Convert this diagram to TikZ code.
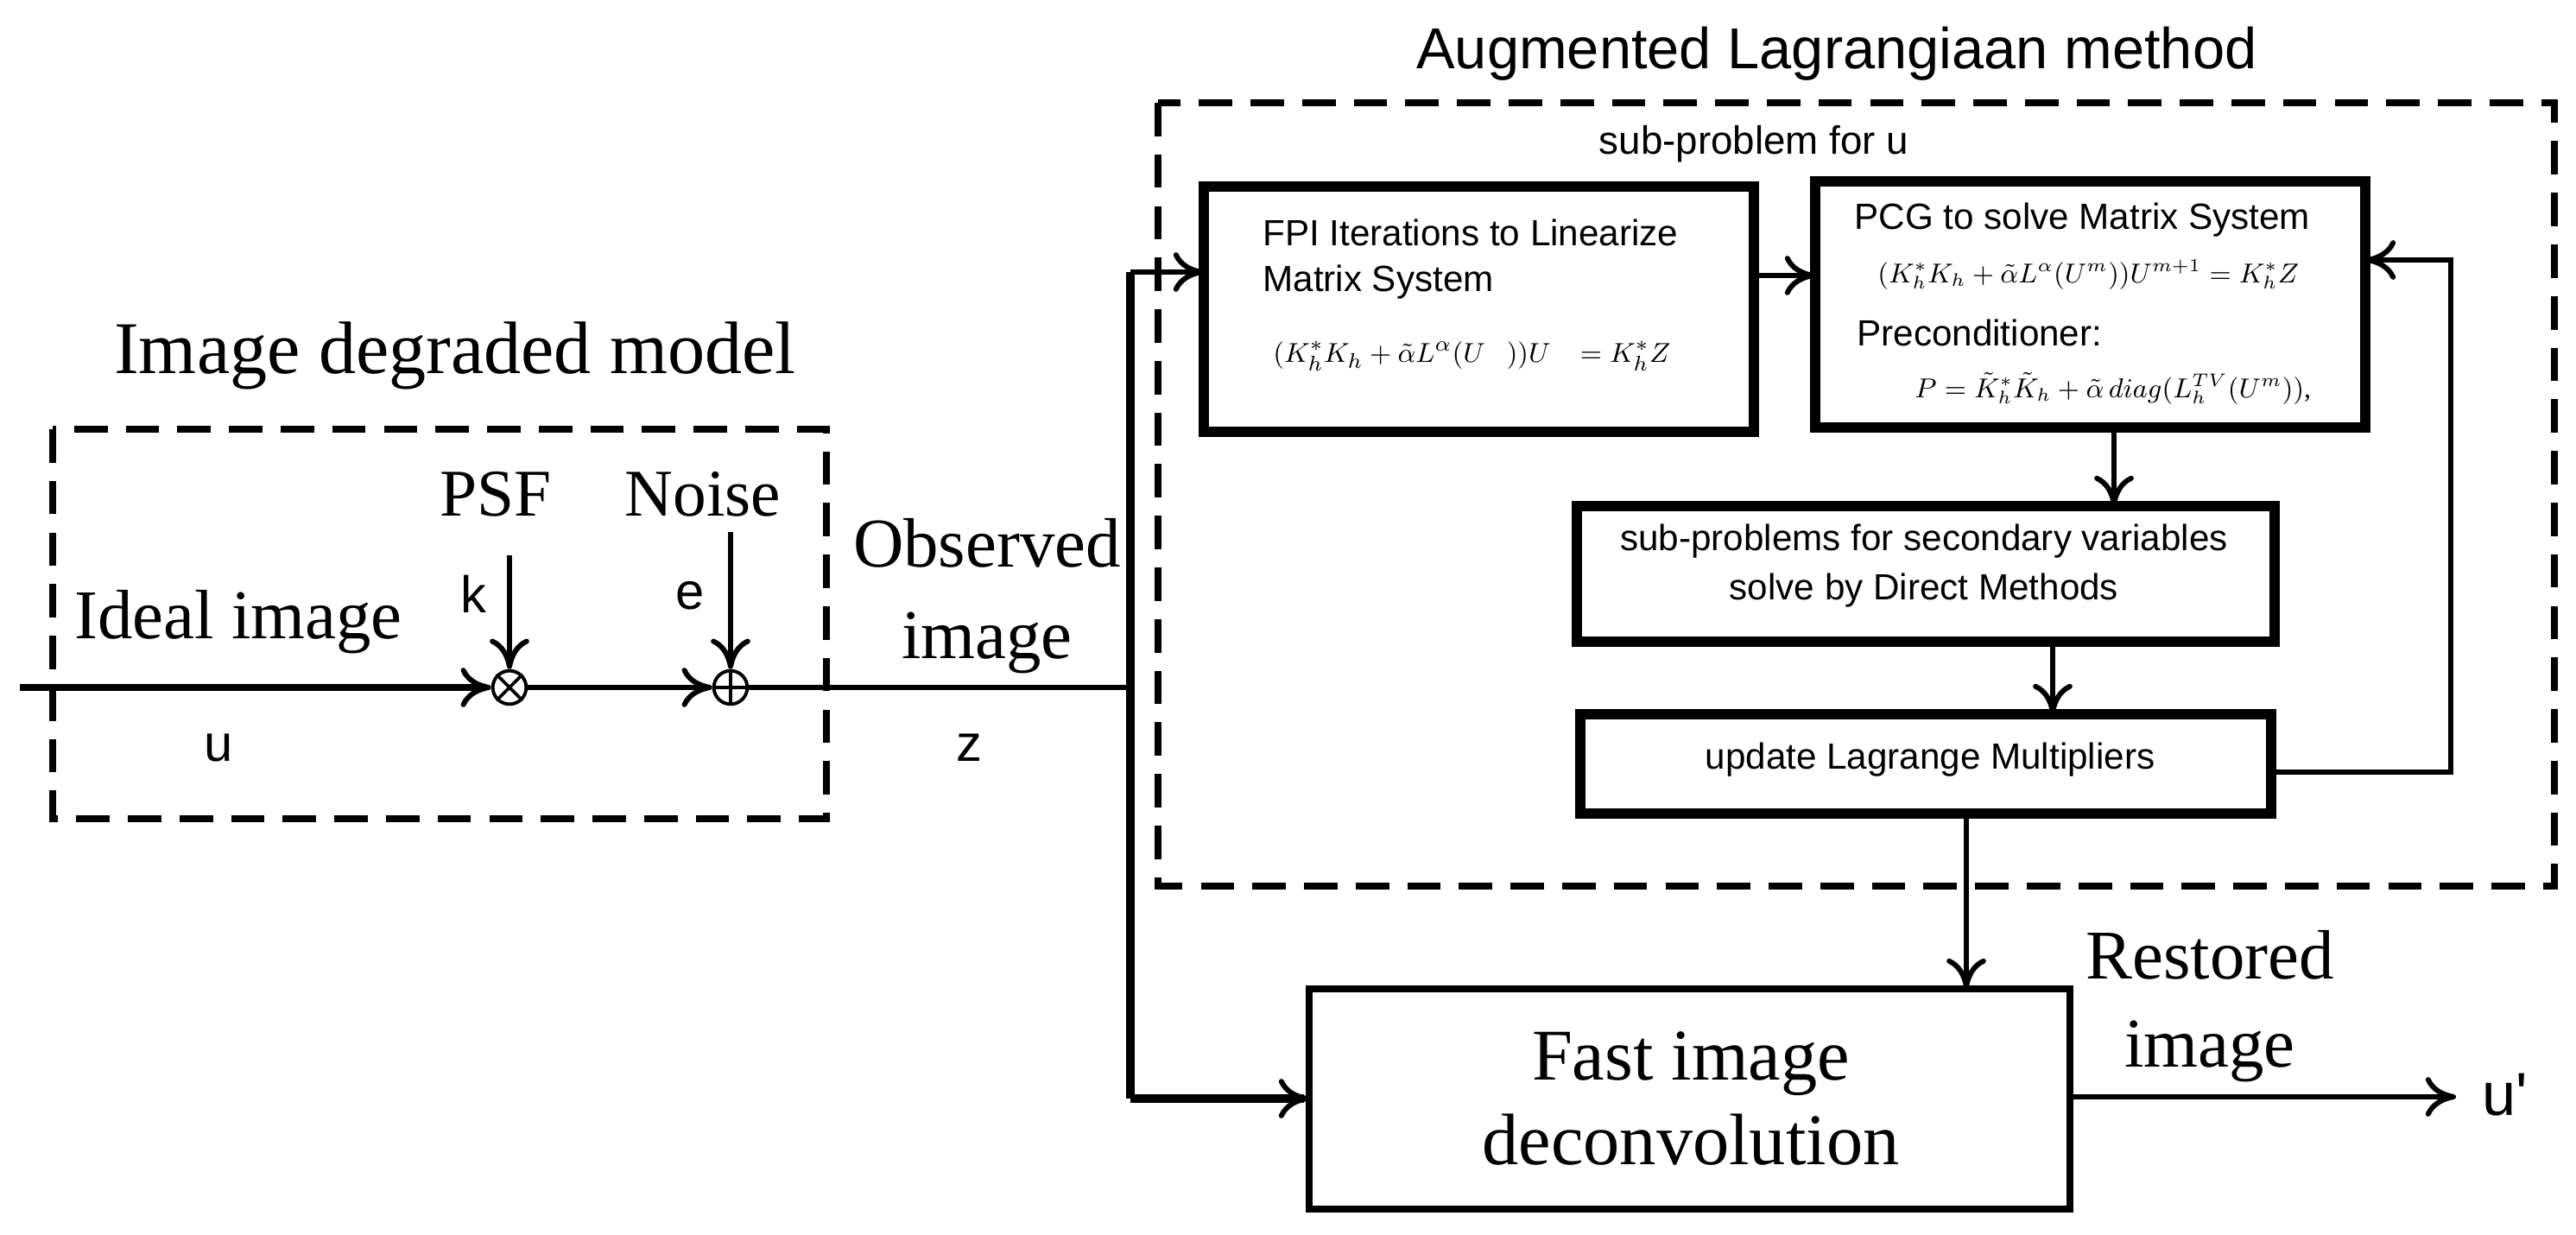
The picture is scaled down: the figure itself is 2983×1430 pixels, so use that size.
\documentclass[tikz,border=0pt]{standalone}
\usepackage{fontspec}
\setmainfont{Liberation Serif}
\newfontfamily\sfx{Liberation Sans}
\usetikzlibrary{arrows.meta}
\begin{document}
\begin{tikzpicture}[x=0.01cm,y=-0.01cm,
  tbox/.style={draw,line width=3.4pt},
  dbox/.style={draw,line width=2.2pt,dash pattern=on 11pt off 6pt},
  ln/.style={line width=1.7pt},
  arr/.style={ln,-{To[length=10pt,width=13pt,line width=1.7pt]}},
  sf/.style={font=\sfx\fontsize{#1}{#1}\selectfont},
  rm/.style={font=\fontsize{#1}{#1}\selectfont},
  sum/.style={circle,draw,inner sep=0,minimum size=11pt,line width=1.1pt}]
\useasboundingbox (0,0) rectangle (2983,1430);
% Augmented Lagrangian part
\node[sf=19] (t1) at (2127,62) {Augmented Lagrangiaan method};
\draw[dbox] (1341,119) rectangle (2958,1026);
\node[sf=13] (t2) at (2031,167) {sub-problem for u};
\draw[tbox] (1394,216) rectangle (2031,500);
\coordinate (fpiL) at (1394,315);
\coordinate (fpiR) at (2031,319);
\node[anchor=west,align=left,font=\sfx\fontsize{12}{15}\selectfont] (fpit) at (1450,300) {FPI Iterations to Linearize\\Matrix System};
\node[anchor=west,font=\fontsize{9.5}{9.5}\selectfont] (fpie) at (1462,412) {$(K_h^*K_h+\tilde\alpha L^\alpha(U\ \ \ ))U\ \ \ =K_h^*Z$};
\draw[tbox] (2102,210) rectangle (2739,495);
\coordinate (pcgL) at (2102,319);
\coordinate (pcgR) at (2739,301);
\coordinate (pcgB) at (2448,495);
\node[sf=12,anchor=west] (pcgt) at (2135,255) {PCG to solve Matrix System};
\node[anchor=west,font=\fontsize{9}{9}\selectfont] (pcge1) at (2162,318) {$(K_h^*K_h+\tilde\alpha L^\alpha(U^m))U^{m+1}=K_h^*Z$};
\node[sf=12,anchor=west] (pcgp) at (2138,385) {Preconditioner:};
\node[anchor=west,font=\fontsize{9}{9}\selectfont] (pcge2) at (2205,450) {$P=\tilde K_h^*\tilde K_h+\tilde\alpha\, diag(L_h^{TV}(U^m))$,};
\draw[tbox] (1826,586) rectangle (2634,743);
\coordinate (spT) at (2448,586);
\coordinate (spB) at (2377,743);
\node[align=center,font=\sfx\fontsize{12}{16}\selectfont] (spt) at (2228,655) {sub-problems for secondary variables\\solve by Direct Methods};
\draw[tbox] (1830,827) rectangle (2630,942);
\coordinate (upT) at (2377,827);
\coordinate (upR) at (2630,894);
\coordinate (upB) at (2277,942);
\node[sf=12] (upt) at (2235,880) {update Lagrange Multipliers};
\draw[arr] (fpiR) -- (pcgL);
\draw[arr] (pcgB) -- (spT);
\draw[arr] (spB) -- (upT);
\coordinate (fb1) at (2838,894);
\coordinate (fb2) at (2838,301);
\draw[arr] (upR) -- (fb1) -- (fb2) -- (pcgR);
% left model
\node[rm=24.5] (t3) at (527,412) {Image degraded model};
\draw[dbox] (61,497) rectangle (957,948);
\node[rm=22] (psf) at (574,572) {PSF};
\node[rm=22] (noise) at (814,572) {Noise};
\node[sf=17] (k) at (548,688) {k};
\node[sf=17] (e) at (799,690) {e};
\node[rm=23] (ideal) at (276,720) {Ideal image};
\node[sf=17] (u) at (253,866) {u};
\node[sum] (ot) at (590,796) {};
\draw[line width=1.1pt] (ot.north west)--(ot.south east) (ot.north east)--(ot.south west);
\node[sum] (op) at (846,796) {};
\draw[line width=1.1pt] (op.north)--(op.south) (op.east)--(op.west);
\coordinate (kin) at (590,643);
\coordinate (ein) at (846,616);
\coordinate (start) at (23,796);
\coordinate (j) at (1309,796);
\coordinate (jt) at (1309,315);
\coordinate (jb) at (1309,1272);
\draw[arr] (kin) -- (ot);
\draw[arr] (ein) -- (op);
\draw[arr,line width=2.4pt] (start) -- (ot);
\draw[arr] (ot) -- (op);
\draw[ln] (op) -- (j);
\node[align=center,font=\fontsize{23}{30}\selectfont] (obs) at (1143,690) {Observed\\image};
\node[sf=17] (z) at (1122,866) {z};
\draw[line width=2.6pt] (jt) -- (jb);
\draw[arr] (jt) -- (fpiL);
% fast
\draw[line width=2.4pt] (1516,1145) rectangle (2397,1400);
\node[align=center,font=\fontsize{24}{28}\selectfont] (fast) at (1958,1272) {Fast image\\deconvolution};
\coordinate (fastL) at (1516,1272);
\coordinate (fastT) at (2277,1145);
\coordinate (fastR) at (2397,1270);
\draw[arr,line width=2.6pt] (jb) -- (fastL);
\draw[arr] (upB) -- (fastT);
\coordinate (out) at (2844,1270);
\draw[arr] (fastR) -- (out);
\node[sf=20,anchor=west] (up) at (2862,1268) {u'};
\node[align=center,font=\fontsize{23}{29}\selectfont] (rest) at (2559,1165) {Restored\\image};
\end{tikzpicture}
\end{document}
